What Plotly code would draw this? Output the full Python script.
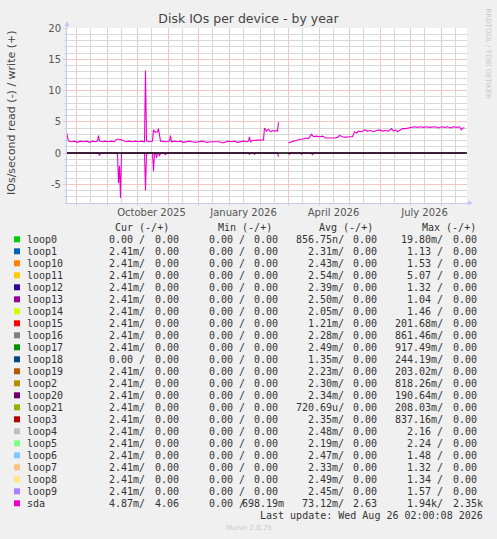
import plotly.graph_objects as go

# ---------------- data ----------------
write_dates = [
    "2025-07-22", "2025-07-24", "2025-07-27", "2025-07-30", "2025-08-02", "2025-08-05",
    "2025-08-08", "2025-08-11", "2025-08-14", "2025-08-17", "2025-08-20", "2025-08-22",
    "2025-08-23", "2025-08-24", "2025-08-27", "2025-08-30", "2025-09-02", "2025-09-05",
    "2025-09-08", "2025-09-10", "2025-09-13", "2025-09-15", "2025-09-17", "2025-09-20",
    "2025-09-23", "2025-09-26", "2025-09-29", "2025-10-02", "2025-10-05", "2025-10-08",
    "2025-10-09", "2025-10-10", "2025-10-13", "2025-10-16", "2025-10-17", "2025-10-19",
    "2025-10-21", "2025-10-22", "2025-10-24", "2025-10-27", "2025-10-30", "2025-11-02",
    "2025-11-03", "2025-11-04", "2025-11-07", "2025-11-10", "2025-11-13", "2025-11-16",
    "2025-11-19", "2025-11-22", "2025-11-25", "2025-11-28", "2025-12-01", "2025-12-04",
    "2025-12-07", "2025-12-10", "2025-12-13", "2025-12-16", "2025-12-19", "2025-12-22",
    "2025-12-25", "2025-12-28", "2025-12-31", "2026-01-03", "2026-01-06", "2026-01-09",
    "2026-01-12", "2026-01-15", "2026-01-18", "2026-01-20", "2026-01-21", "2026-01-22",
    "2026-01-24", "2026-01-27", "2026-01-30", "2026-02-01", "2026-02-04", "2026-02-05",
    "2026-02-07", "2026-02-09", "2026-02-11", "2026-02-13", "2026-02-15", "2026-02-17",
    "2026-02-18", "2026-02-19", "2026-02-20", "2026-03-01", "2026-03-04", "2026-03-06",
    "2026-03-09", "2026-03-12", "2026-03-15", "2026-03-18", "2026-03-21", "2026-03-24",
    "2026-03-26", "2026-03-29", "2026-04-01", "2026-04-04", "2026-04-07", "2026-04-10",
    "2026-04-13", "2026-04-16", "2026-04-19", "2026-04-21", "2026-04-24", "2026-04-27",
    "2026-04-30", "2026-05-04", "2026-05-06", "2026-05-08", "2026-05-10", "2026-05-13",
    "2026-05-16", "2026-05-19", "2026-05-22", "2026-05-25", "2026-05-28", "2026-05-31",
    "2026-06-03", "2026-06-06", "2026-06-09", "2026-06-12", "2026-06-14", "2026-06-16",
    "2026-06-18", "2026-06-20", "2026-06-23", "2026-06-26", "2026-06-29", "2026-07-02",
    "2026-07-05", "2026-07-08", "2026-07-11", "2026-07-14", "2026-07-17", "2026-07-20",
    "2026-07-23", "2026-07-26", "2026-07-29", "2026-08-01", "2026-08-04", "2026-08-07",
    "2026-08-10", "2026-08-13", "2026-08-16", "2026-08-19", "2026-08-21", "2026-08-22",
    "2026-08-24",
]
write_vals = [
    3.3, 1.9, 1.8, 1.9, 1.7, 1.9,
    1.8, 1.9, 1.7, 1.9, 1.8, 1.9,
    2.8, 1.9, 1.8, 1.9, 1.8, 1.9,
    1.8, 2.2, 2.2, 2.1, 1.9, 1.8,
    1.9, 1.8, 1.9, 1.8, 1.9, 1.8,
    13.2, 1.9, 1.8, 1.9, 3.7, 3.3,
    3.4, 3.9, 1.9, 1.8, 1.8, 1.9,
    2.8, 1.8, 1.9, 1.8, 1.9, 1.7,
    1.8, 1.9, 1.8, 1.7, 1.8, 1.9,
    1.8, 1.7, 1.8, 1.8, 1.7, 1.8,
    1.6, 1.8, 1.9, 1.8, 1.9, 1.7,
    1.8, 1.9, 1.8, 1.9, 2.6, 1.8,
    2.0, 2.0, 2.1, 2.0, 2.1, 4.0,
    3.5, 3.8, 3.4, 3.6, 3.5, 3.6,
    3.5, 4.9, None, 1.6, 1.8, 1.9,
    2.0, 2.2, 2.2, 2.4, 2.3, 3.0,
    2.6, 2.7, 2.6, 2.7, 2.4, 2.4,
    2.3, 2.4, 2.5, 2.8, 2.6, 2.5,
    2.6, 2.6, 3.4, 3.2, 3.5, 3.4,
    3.7, 3.5, 3.6, 3.4, 3.6, 3.7,
    3.5, 3.6, 3.5, 3.9, 3.5, 3.7,
    3.4, 3.6, 3.9, 3.9, 4.0, 4.1,
    4.2, 4.1, 4.2, 4.1, 4.2, 4.1,
    4.1, 4.2, 4.0, 4.2, 4.1, 4.2,
    4.0, 4.2, 4.1, 4.2, 3.7, 4.0,
    4.0,
]

read_dates = [
    "2025-07-22", "2025-08-23", "2025-08-24", "2025-08-25", "2025-09-11", "2025-09-12",
    "2025-09-13", "2025-09-14", "2025-09-15", "2025-10-08", "2025-10-09", "2025-10-10",
    "2025-10-16", "2025-10-17", "2025-10-18", "2025-10-19", "2025-10-20", "2025-10-21",
    "2025-10-22", "2025-10-23", "2025-10-24", "2025-10-28", "2025-10-29", "2025-10-30",
    "2026-01-20", "2026-01-21", "2026-01-22", "2026-01-25", "2026-01-26", "2026-01-27",
    "2026-02-18", "2026-02-19", "2026-02-20", "2026-03-01", "2026-03-02", "2026-03-03",
    "2026-03-13", "2026-03-14", "2026-03-15", "2026-03-24", "2026-03-25", "2026-03-26",
    "2026-08-24",
]
read_vals = [
    0.0, 0.0, 0.4, 0.0, 0.0, 4.8,
    2.1, 7.2, 0.0, 0.0, 6.0, 0.0,
    0.0, 2.9, 0.0, 0.0, 0.8, 0.0,
    0.0, 0.5, 0.0, 0.0, 0.3, 0.0,
    0.0, 0.2, 0.0, 0.0, 0.2, 0.0,
    0.0, 0.6, None, 0.0, 0.2, 0.0,
    0.0, 0.2, 0.0, 0.0, 0.3, 0.0,
    0.0,
]

month_starts = [
    "2025-08-01", "2025-09-01", "2025-10-01", "2025-11-01", "2025-12-01", "2026-01-01",
    "2026-02-01", "2026-03-01", "2026-04-01", "2026-05-01", "2026-06-01", "2026-07-01",
    "2026-08-01",
]
mid_months = [
    "2025-08-15", "2025-09-15", "2025-10-15", "2025-11-15", "2025-12-15", "2026-01-15",
    "2026-02-15", "2026-03-15", "2026-04-15", "2026-05-15", "2026-06-15", "2026-07-15",
    "2026-08-15",
]
x_tick_labels = ["", "", "October 2025", "", "", "January 2026", "", "", "April 2026",
                 "", "", "July 2026", ""]
y_tickvals = [-5, 0, 5, 10, 15, 20]
y_ticktext = ["-5", "0", "5", "10", "15", "20"]
zero_rule = 0

names = ["loop0", "loop1", "loop10", "loop11", "loop12", "loop13", "loop14", "loop15",
         "loop16", "loop17", "loop18", "loop19", "loop2", "loop20", "loop21", "loop3",
         "loop4", "loop5", "loop6", "loop7", "loop8", "loop9", "sda"]
colors = ["#00CC00", "#0066B3", "#FF8000", "#FFCC00", "#330099", "#990099", "#CCFF00",
          "#FF0000", "#808080", "#008F00", "#00487D", "#B35A00", "#B38F00", "#6B006B",
          "#8FB300", "#B30000", "#BEBEBE", "#80FF80", "#80C9FF", "#FFC080", "#FFE680",
          "#AA80FF", "#EE00CC"]
cur_read = ["0.00", "2.41m", "2.41m", "2.41m", "2.41m", "2.41m", "2.41m", "2.41m",
            "2.41m", "2.41m", "0.00", "2.41m", "2.41m", "2.41m", "2.41m", "2.41m",
            "2.41m", "2.41m", "2.41m", "2.41m", "2.41m", "2.41m", "4.87m"]
cur_write = ["0.00", "0.00", "0.00", "0.00", "0.00", "0.00", "0.00", "0.00",
             "0.00", "0.00", "0.00", "0.00", "0.00", "0.00", "0.00", "0.00",
             "0.00", "0.00", "0.00", "0.00", "0.00", "0.00", "4.06"]
min_read = ["0.00", "0.00", "0.00", "0.00", "0.00", "0.00", "0.00", "0.00",
            "0.00", "0.00", "0.00", "0.00", "0.00", "0.00", "0.00", "0.00",
            "0.00", "0.00", "0.00", "0.00", "0.00", "0.00", "0.00"]
min_write = ["0.00", "0.00", "0.00", "0.00", "0.00", "0.00", "0.00", "0.00",
             "0.00", "0.00", "0.00", "0.00", "0.00", "0.00", "0.00", "0.00",
             "0.00", "0.00", "0.00", "0.00", "0.00", "0.00", "698.19m"]
avg_read = ["856.75n", "2.31m", "2.43m", "2.54m", "2.39m", "2.50m", "2.05m", "1.21m",
            "2.28m", "2.49m", "1.35m", "2.23m", "2.30m", "2.34m", "720.69u", "2.35m",
            "2.48m", "2.19m", "2.47m", "2.33m", "2.49m", "2.45m", "73.12m"]
avg_write = ["0.00", "0.00", "0.00", "0.00", "0.00", "0.00", "0.00", "0.00",
             "0.00", "0.00", "0.00", "0.00", "0.00", "0.00", "0.00", "0.00",
             "0.00", "0.00", "0.00", "0.00", "0.00", "0.00", "2.63"]
max_read = ["19.80m", "1.13", "1.53", "5.07", "1.32", "1.04", "1.46", "201.68m",
            "861.46m", "917.49m", "244.19m", "203.02m", "818.26m", "190.64m", "208.03m",
            "837.16m", "2.16", "2.24", "1.48", "1.32", "1.34", "1.57", "1.94k"]
max_write = ["0.00", "0.00", "0.00", "0.00", "0.00", "0.00", "0.00", "0.00",
             "0.00", "0.00", "0.00", "0.00", "0.00", "0.00", "0.00", "0.00",
             "0.00", "0.00", "0.00", "0.00", "0.00", "0.00", "2.35k"]
headers = ["Cur (-/+)", "Min (-/+)", "Avg (-/+)", "Max (-/+)"]

title_text = "Disk IOs per device - by year"
ytitle_text = "IOs/second read (-) / write (+)"
last_update = "Last update: Wed Aug 26 02:00:08 2026"
munin_ver = "Munin 2.0.75"
rrd_credit = "RRDTOOL / TOBI OETIKER"

# ---------------- styling ----------------
W, H = 497, 539
PL, PR, PT, PB = 67, 467, 28, 203
RED = "#f3c6c6"
GREY = "#d9d9d9"
AXIS = "#c3c9f2"
LINE = "#EE00CC"
MONO = "DejaVu Sans Mono"
SANS = "DejaVu Sans"


def px_x(x):
    return (x - PL) / (PR - PL)


def px_y(y):
    return (PB - y) / (PB - PT)


fig = go.Figure()
fig.add_trace(go.Scatter(x=write_dates, y=write_vals, mode="lines",
                         line=dict(color=LINE, width=1.1), connectgaps=False,
                         hoverinfo="skip"))
fig.add_trace(go.Scatter(x=read_dates, y=[None if v is None else -v for v in read_vals],
                         mode="lines", line=dict(color=LINE, width=1.1),
                         connectgaps=False, hoverinfo="skip"))

annotations = []
shapes = []

# black rule at zero, above the traces (as rrdtool draws it)
shapes.append(dict(type="line", xref="paper", x0=0, x1=1, yref="y", y0=zero_rule,
                   y1=zero_rule, line=dict(color="#000000", width=1.3), layer="above"))

# legend table
mono_font = dict(family=MONO, size=10, color="#333333")
header_y = 227.7
row_y0 = 239.3
row_h = 12.0
header_right = [170.0, 272.5, 374.0, 476.5]
slash_right = [146.4, 245.7, 345.0, 444.3]
write_right = [179.6, 278.9, 378.2, 477.5]
cols = [(cur_read, cur_write), (min_read, min_write), (avg_read, avg_write),
        (max_read, max_write)]

for j, h in enumerate(headers):
    annotations.append(dict(x=px_x(header_right[j]), y=px_y(header_y), xref="paper",
                            yref="paper", text=h, showarrow=False, xanchor="right",
                            yanchor="middle", font=mono_font, borderpad=0))

for i, name in enumerate(names):
    yc = row_y0 + i * row_h
    shapes.append(dict(type="rect", xref="paper", yref="paper",
                       x0=px_x(14), x1=px_x(20), y0=px_y(yc + 3), y1=px_y(yc - 3),
                       fillcolor=colors[i], line=dict(width=0)))
    annotations.append(dict(x=px_x(26), y=px_y(yc), xref="paper", yref="paper",
                            text=name, showarrow=False, xanchor="left",
                            yanchor="middle", font=mono_font, borderpad=0))
    for j, (rd, wr) in enumerate(cols):
        r = rd[i]
        rtxt = r + "/" if r[-1].isalpha() else r + " /"
        annotations.append(dict(x=px_x(slash_right[j]), y=px_y(yc), xref="paper",
                                yref="paper", text=rtxt, showarrow=False,
                                xanchor="right", yanchor="middle", font=mono_font,
                                borderpad=0))
        w = wr[i]
        wx = write_right[j] + (6.02 if w[-1].isalpha() else 0.0)
        annotations.append(dict(x=px_x(wx), y=px_y(yc), xref="paper", yref="paper",
                                text=w, showarrow=False, xanchor="right",
                                yanchor="middle", font=mono_font, borderpad=0))

annotations.append(dict(x=px_x(484), y=px_y(515.7), xref="paper", yref="paper",
                        text=last_update, showarrow=False, xanchor="right",
                        yanchor="middle", font=mono_font, borderpad=0))
annotations.append(dict(x=px_x(248.5), y=px_y(527.7), xref="paper", yref="paper",
                        text=munin_ver, showarrow=False, xanchor="center",
                        yanchor="middle", font=dict(family=SANS, size=7, color="#c8c8c8"),
                        borderpad=0))
annotations.append(dict(x=px_x(488), y=px_y(53.5), xref="paper", yref="paper",
                        text=rrd_credit, showarrow=False, textangle=90,
                        xanchor="center", yanchor="middle",
                        font=dict(family=SANS, size=7, color="#c8c8c8"), borderpad=0))
annotations.append(dict(x=px_x(11), y=px_y(113), xref="paper", yref="paper",
                        text=ytitle_text, showarrow=False, textangle=-90,
                        xanchor="center", yanchor="middle",
                        font=dict(family=SANS, size=11, color="#444444"), borderpad=0))
# axis arrows
annotations.append(dict(x=0, y=px_y(21), xref="paper", yref="paper", text="",
                        showarrow=True, ax=0, ay=9, arrowhead=2, arrowsize=1,
                        arrowwidth=1, arrowcolor=AXIS, standoff=0))
annotations.append(dict(x=px_x(473), y=0, xref="paper", yref="paper", text="",
                        showarrow=True, ax=-9, ay=0, arrowhead=2, arrowsize=1,
                        arrowwidth=1, arrowcolor=AXIS, standoff=0))

fig.update_layout(
    width=W, height=H,
    margin=dict(l=PL, r=W - PR, t=PT, b=H - PB, pad=0),
    paper_bgcolor="#F0F0F0", plot_bgcolor="#FFFFFF",
    showlegend=False, hovermode=False,
    title=dict(text=title_text, x=0.5, xref="container", xanchor="center",
               y=1 - 19 / H, yref="container", yanchor="middle",
               font=dict(family=SANS, size=12.5, color="#444444")),
    xaxis=dict(type="date", range=["2025-07-22 12:00", "2026-08-26 12:00"],
               tickmode="array", tickvals=mid_months, ticktext=x_tick_labels,
               showgrid=True, gridcolor=GREY, gridwidth=1,
               ticks="", zeroline=False, showline=True, linecolor=AXIS, linewidth=1,
               tickfont=dict(family=SANS, size=10, color="#555555"),
               minor=dict(tickmode="array", tickvals=month_starts, showgrid=True,
                          gridcolor=RED, gridwidth=1, ticks="outside",
                          ticklen=2, tickcolor=RED)),
    yaxis=dict(range=[-8, 20], tickmode="array", tickvals=y_tickvals,
               ticktext=y_ticktext, showgrid=True, gridcolor=RED, gridwidth=1,
               zeroline=False,
               showline=True, linecolor=AXIS, linewidth=1, ticks="outside",
               ticklen=3, tickcolor=RED,
               tickfont=dict(family=SANS, size=10, color="#555555"),
               minor=dict(tickmode="linear", tick0=0, dtick=1, showgrid=True,
                          gridcolor=GREY, gridwidth=1, ticks="outside",
                          ticklen=2, tickcolor=GREY)),
    annotations=annotations,
    shapes=shapes,
)

fig.write_html("out.html", config={"displayModeBar": False, "staticPlot": True},
               post_script="document.body.style.margin='0';document.body.style.overflow='hidden';")
